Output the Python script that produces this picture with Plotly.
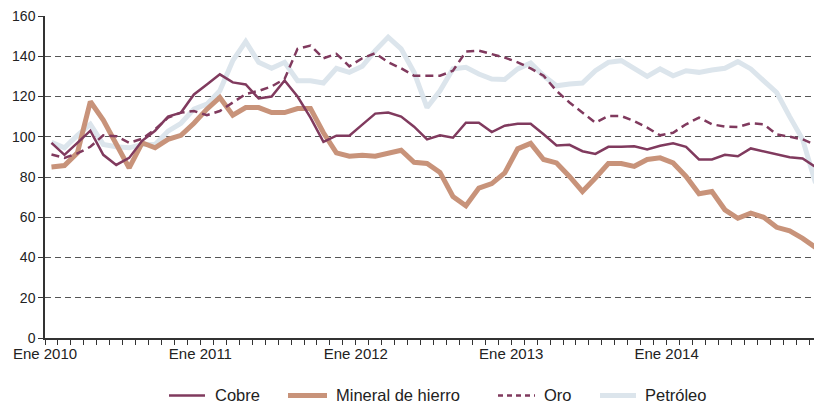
import plotly.graph_objects as go

# Monthly index values, Jan 2010 .. Dec 2014
months = list(range(60))
tick_labels = ["Ene 2010", "Ene 2011", "Ene 2012", "Ene 2013", "Ene 2014"]
series_names = ["Cobre", "Mineral de hierro", "Oro", "Petróleo"]

cobre = [97, 91, 97, 103, 91, 86, 89.5, 98, 103, 110, 112, 121,
         126, 131, 127, 126, 119, 120, 128, 120, 109.5, 97.5, 100.5, 100.5,
         106, 111.5, 112, 110, 105, 98.7, 100.7, 99.5, 107, 107, 102.3, 105.5,
         106.5, 106.5, 101.2, 95.7, 96, 92.8, 91.5, 95, 95, 95.3, 93.7, 95.5,
         96.7, 95, 88.7, 88.7, 91, 90.3, 94.2, 92.8, 91.5, 89.8, 89.2, 85]
hierro = [85, 85.7, 92, 117.5, 108.3, 96.2, 84.5, 97, 94.5, 98.7, 100.7, 106.7,
          113.7, 119.5, 110.7, 114.5, 114.5, 112, 112, 114, 114, 102, 92, 90.3,
          90.8, 90.3, 91.7, 93.3, 87.3, 86.7, 82.3, 70.3, 65.7, 74.5, 76.7, 82,
          94, 96.7, 88.7, 87, 80.3, 72.8, 79.5, 86.7, 86.7, 85.3, 88.7, 89.5,
          87, 80.3, 71.7, 72.8, 63.7, 59.5, 62, 60, 55, 53.2, 49.5, 45]
oro = [91.2, 89.5, 91.7, 95, 100.7, 100.3, 97, 99, 103.7, 109.5, 112, 112.8,
       110.7, 112.8, 117, 121.2, 122.8, 125, 128.7, 143.7, 145.3, 139, 141.2, 135,
       139, 141.5, 137, 134, 130.3, 130.3, 130.3, 132.8, 142.3, 142.8, 141.2, 139.3,
       137, 134, 130.3, 122.8, 117, 112, 107, 110.3, 110.3, 107.8, 104.5, 100.7,
       102, 106.2, 109.5, 106.2, 105, 104.8, 106.7, 106.2, 101.2, 100, 98.7, 96]
petroleo = [97.3, 94.5, 100.7, 106.2, 96.2, 95, 94.5, 96.2, 96.2, 102.8, 106.7, 113.7,
            116.2, 122.8, 137.8, 147.3, 137, 134, 137, 127.8, 127.8, 126.7, 134, 132,
            135, 142.8, 149.5, 143.7, 132, 114.5, 122.8, 133.7, 134.5, 131.2, 128.7, 128.5,
            133.7, 136.7, 130.3, 125.3, 126.2, 126.7, 132.8, 137, 137.8, 134, 130, 133.7,
            130.3, 132.8, 132, 133.2, 134, 137.3, 133.7, 127.8, 122, 110, 98.7, 77]

xs = [m + 0.5 for m in months]
PURPLE = "#803a5e"
TAN = "#c8937a"
LIGHT = "#dce5ec"
FONT = "Liberation Sans, Arial, sans-serif"

styles = {
    "Cobre": dict(color=PURPLE, width=2.5, dash="solid"),
    "Mineral de hierro": dict(color=TAN, width=5, dash="solid"),
    "Oro": dict(color=PURPLE, width=2.5, dash="8px,5px"),
    "Petróleo": dict(color=LIGHT, width=5, dash="solid"),
}
values = {"Cobre": cobre, "Mineral de hierro": hierro, "Oro": oro, "Petróleo": petroleo}

fig = go.Figure()
for name in ["Petróleo", "Mineral de hierro", "Oro", "Cobre"]:
    fig.add_trace(go.Scatter(x=xs, y=values[name], name=name, mode="lines",
                             line=styles[name], showlegend=False, hoverinfo="skip"))

# Manual legend (plot area: x 45..814 px, y 16..337.6 px)
L, W, B, H = 45.0, 769.0, 337.6, 321.6
def px(x):
    return (x - L) / W
def py(y):
    return (B - y) / H

legend_pos = [(169, 205, 214), (288, 327, 335), (498, 535, 543), (600, 636, 644)]
ly = 395
for name, (s0, s1, t0) in zip(series_names, legend_pos):
    st = styles[name]
    fig.add_shape(type="line", xref="paper", yref="paper",
                  x0=px(s0), x1=px(s1), y0=py(ly), y1=py(ly),
                  line=dict(color=st["color"], width=st["width"],
                            dash="5px,4px" if st["dash"] != "solid" else "solid"))
    fig.add_annotation(xref="paper", yref="paper", x=px(t0), y=py(ly),
                       xanchor="left", yanchor="middle", text=name, showarrow=False,
                       borderpad=0, font=dict(size=16.5, color="#222222", family=FONT))

tickvals = list(range(60))
ticktext = [tick_labels[v // 12] if v % 12 == 0 else "" for v in tickvals]

fig.update_layout(
    width=814, height=405,
    margin=dict(l=45, r=0, t=16, b=67, autoexpand=False),
    paper_bgcolor="white", plot_bgcolor="white",
    font=dict(family=FONT, size=15, color="#222222"),
    showlegend=False,
    xaxis=dict(range=[0, 59.38], tickmode="array", tickvals=tickvals, ticktext=ticktext,
               ticks="outside", ticklen=5, tickcolor="#333333", tickwidth=1,
               showline=True, linecolor="#333333", linewidth=1.5, ticklabelstandoff=-4,
               showgrid=False, zeroline=False, tickangle=0, automargin=False,
               tickfont=dict(size=15, color="#222222")),
    yaxis=dict(range=[0, 160], tickmode="linear", tick0=0, dtick=20,
               ticks="outside", ticklen=5, tickcolor="#333333", tickwidth=1,
               showline=True, linecolor="#333333", linewidth=1.5, automargin=False,
               showgrid=True, gridcolor="#555555", gridwidth=1, griddash="6px,4px",
               zeroline=False, tickfont=dict(size=14, color="#222222")),
)

fig.write_html("out.html", config={"displayModeBar": False},
               post_script="document.body.style.margin='0';document.body.style.overflow='hidden';")
